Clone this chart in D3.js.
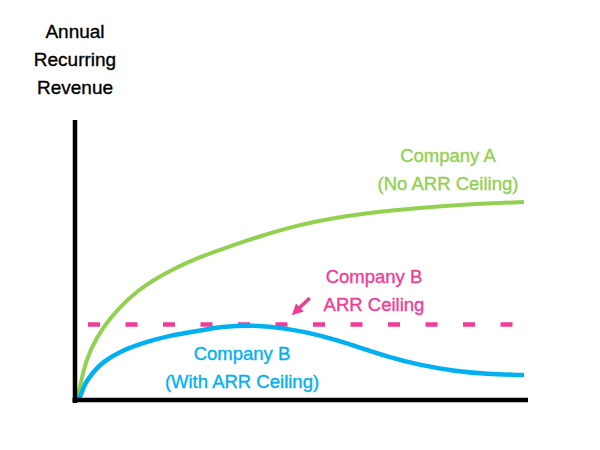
<!DOCTYPE html>
<html>
<head>
<meta charset="utf-8">
<script src="https://cdn.jsdelivr.net/npm/d3@7"></script>
<style>
  body { margin: 0; background: #fff; }
  text { font-family: "Liberation Sans", Arial, sans-serif; stroke-width: 0.35px; }
</style>
</head>
<body>
<div id="myChart"></div>
<script>
let width = 600
let height = 450

// time (0-100) and ARR (0-100)
const timeA = [0, 0.73, 1.85, 3.34, 6.3, 10.0, 13.7, 17.4, 21.2, 24.9, 28.6, 32.3, 42.7, 50.1, 57.5, 65.7, 70.8, 78.3, 85.7, 93.1, 100]
const arrA = [0, 1.2, 10.7, 17.9, 26.2, 33.3, 38.7, 42.8, 46.2, 49.0, 51.5, 53.7, 59.3, 62.6, 65.0, 66.9, 67.75, 68.8, 69.7, 70.3, 70.7]

const timeB = [0.6, 1.1, 2.2, 4.1, 6.3, 10.0, 13.7, 17.4, 21.2, 24.9, 28.6, 32.3, 39.6, 47.1, 54.6, 61.9, 69.4, 76.8, 84.2, 91.7, 100]
const arrB = [0, 0.7, 6.1, 10.1, 13.7, 17.3, 19.6, 21.4, 23.0, 24.0, 25.0, 26.1, 26.8, 25.6, 23.2, 19.6, 15.5, 12.5, 10.4, 9.3, 8.9]

const ceilingB = 27.0
const ceilingSpan = [2.9, 97.6]

const green = "#92d050"
const blue = "#00b0f0"
const pink = "#f03c98"

let svg = d3.select("#myChart")
  .append("svg")
  .attr("width", width)
  .attr("height", height)

let x = d3.scaleLinear().domain([0, 100]).range([75, 524])
let y = d3.scaleLinear().domain([0, 100]).range([400, 120])

let line = d3.line()
  .x(d => x(d[0]))
  .y(d => y(d[1]))
  .curve(d3.curveBasis)

// axis title
svg.append("text")
  .attr("text-anchor", "middle")
  .attr("font-size", 19)
  .attr("fill", "#000")
  .attr("stroke", "#000")
  .selectAll("tspan")
  .data(["Annual", "Recurring", "Revenue"])
  .enter().append("tspan")
  .attr("x", 75)
  .attr("y", (d, i) => 38 + i * 28)
  .text(d => d)

// ceiling line
svg.append("line")
  .attr("x1", x(ceilingSpan[0]))
  .attr("x2", x(ceilingSpan[1]))
  .attr("y1", y(ceilingB))
  .attr("y2", y(ceilingB))
  .attr("stroke", pink)
  .attr("stroke-width", 4.5)
  .attr("stroke-dasharray", "12,25.5")

svg.append("path")
  .datum(timeA.map((t, i) => [t, arrA[i]]))
  .attr("d", line)
  .attr("fill", "none")
  .attr("stroke", green)
  .attr("stroke-width", 4)

svg.append("path")
  .datum(timeB.map((t, i) => [t, arrB[i]]))
  .attr("d", line)
  .attr("fill", "none")
  .attr("stroke", blue)
  .attr("stroke-width", 4.5)

// axes
svg.append("line")
  .attr("x1", x(0)).attr("x2", x(0))
  .attr("y1", y(100)).attr("y2", y(0) + 3)
  .attr("stroke", "#000").attr("stroke-width", 4.5)

svg.append("line")
  .attr("x1", x(0) - 2.5).attr("x2", x(100) + 4)
  .attr("y1", y(0)).attr("y2", y(0))
  .attr("stroke", "#000").attr("stroke-width", 4.5)

// arrow pointing at the ceiling
svg.append("defs").append("marker")
  .attr("id", "head")
  .attr("viewBox", "0 0 10 10")
  .attr("refX", 6).attr("refY", 5)
  .attr("markerWidth", 3.2).attr("markerHeight", 3.2)
  .attr("orient", "auto")
  .append("path")
  .attr("d", "M0,0 L10,5 L0,10 z")
  .attr("fill", pink)

svg.append("line")
  .attr("x1", x(52.3)).attr("y1", y(36.4))
  .attr("x2", x(49.0)).attr("y2", y(31.4))
  .attr("stroke", pink)
  .attr("stroke-width", 3.5)
  .attr("marker-end", "url(#head)")

// labels
function label(lines, cx, cy, color) {
  svg.append("text")
    .attr("text-anchor", "middle")
    .attr("font-size", 18.5)
    .attr("fill", color)
    .attr("stroke", color)
    .selectAll("tspan")
    .data(lines)
    .enter().append("tspan")
    .attr("x", cx)
    .attr("y", (d, i) => cy + i * 28)
    .text(d => d)
}

label(["Company A", "(No ARR Ceiling)"], 448, 162, green)
label(["Company B", "ARR Ceiling"], 374, 283, pink)
label(["Company B", "(With ARR Ceiling)"], 242, 360, blue)
</script>
</body>
</html>
